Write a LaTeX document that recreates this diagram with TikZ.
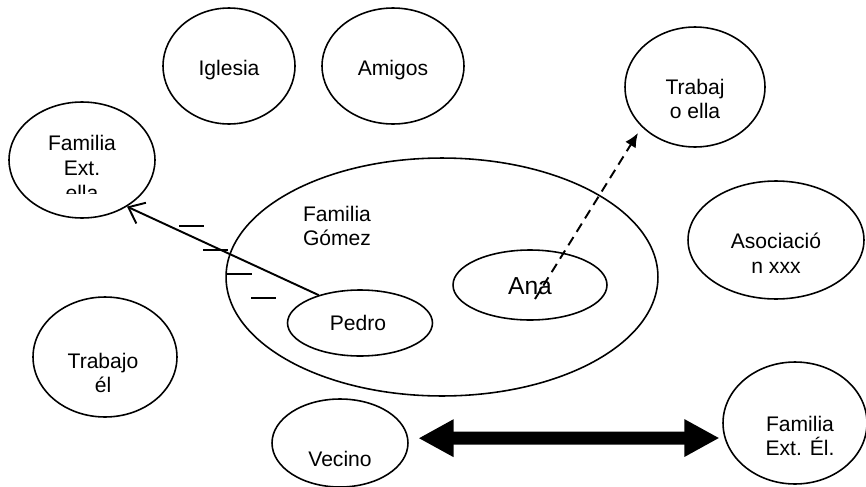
\documentclass[tikz,border=0pt]{standalone}
\usepackage{fontspec}
\setmainfont{Liberation Sans}
\usetikzlibrary{shapes.geometric,arrows.meta}

\begin{document}
\begin{tikzpicture}[x=0.02cm,y=-0.02cm,
        ring/.style={draw, ellipse, line width=0.9pt, inner sep=0pt},
        lbl/.style={align=center, inner sep=0pt, font=\fontsize{12}{14}\selectfont},
        conflict/.style={line width=1.1pt}]
        \useasboundingbox (0,0) rectangle (866,487);

        \node[ring, minimum width=2.64cm, minimum height=2.32cm] (iglesia) at (229,66) {};
        \node[ring, minimum width=2.84cm, minimum height=2.32cm] (amigos) at (393,66) {};
        \node[ring, minimum width=2.80cm, minimum height=2.40cm] (trabella) at (695,87) {};
        \node[ring, minimum width=2.92cm, minimum height=2.32cm] (extella) at (82,160) {};
        \node[ring, minimum width=8.64cm, minimum height=4.76cm] (gomez) at (442,277) {};
        \node[ring, minimum width=3.08cm, minimum height=1.40cm] (ana) at (530,285) {};
        \node[ring, minimum width=2.90cm, minimum height=1.32cm] (pedro) at (360,323) {};
        \node[ring, minimum width=3.52cm, minimum height=2.36cm] (asoc) at (776,240) {};
        \node[ring, minimum width=2.88cm, minimum height=2.40cm] (trabel) at (105,357) {};
        \node[ring, minimum width=2.72cm, minimum height=1.76cm] (vecino) at (340,443) {};
        \node[ring, minimum width=2.88cm, minimum height=2.44cm] (extel) at (795,423) {};

        \node[lbl] (iglesiatxt) at (229,70) {Iglesia};
        \node[lbl] (amigostxt) at (393,70) {Amigos};
        \node[lbl] (trabellatxt) at (695,99) {Trabaj\\o ella};
        \node[lbl] (gomeztxt) at (337,226) {Familia\\Gómez};
        \node[lbl, font=\fontsize{14}{16}\selectfont] (anatxt) at (530,286) {Ana};
        \node[lbl] (pedrotxt) at (358,323) {Pedro};
        \node[lbl] (asoctxt) at (776,253) {Asociació\\n xxx};
        \node[lbl] (trabeltxt) at (103,373) {Trabajo\\él};
        \node[lbl] (vecinotxt) at (340,459) {Vecino};
        \node[lbl] (exteltxt) at (800,436) {Familia\\Ext. Él.};
        \begin{scope}
            \clip (0,0) rectangle (866,193);
            \node[lbl] (extellatxt) at (82,168) {Familia\\Ext.\\ella};
        \end{scope}

        \coordinate (anatail) at (535,299);
        \coordinate (trabtip) at (638,133);

        % relaciones
        \draw[line width=1.1pt, -{Straight Barb[length=8pt,width=13pt]}] (pedro.146) -- (extella.-46);
        \foreach \i in {0,...,3}
            \draw[conflict] (179+24*\i,226+24*\i) -- ++(25,0);
        \draw[line width=1.1pt, dash pattern=on 5.5pt off 3.5pt, -{Latex[length=8pt,width=7pt]}] (anatail) -- (trabtip);
        \draw[line width=7.4pt, {Triangle[length=20pt,width=20pt]}-{Triangle[length=20pt,width=20pt]},
            shorten <=5.7pt, shorten >=2.8pt] (vecino.4) -- (extel.192);
    \end{tikzpicture}
\end{document}
